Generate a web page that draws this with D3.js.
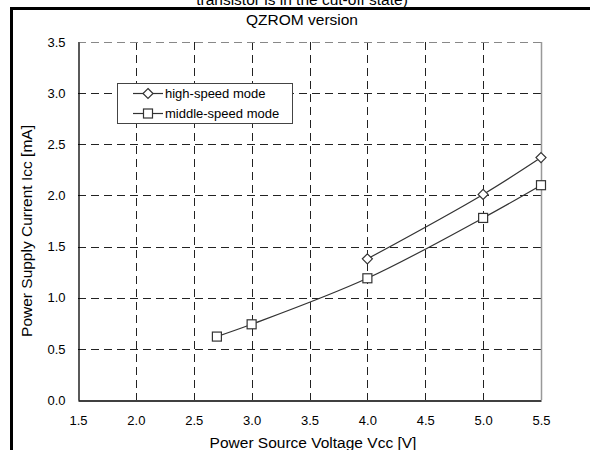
<!DOCTYPE html>
<html><head><meta charset="utf-8">
<script src="https://cdn.jsdelivr.net/npm/d3@7"></script>
<style>body{margin:0;background:#fff}svg{display:block}text{font-family:"Liberation Sans",Arial,sans-serif;fill:#000}</style>
</head><body>
<svg id="c" width="590" height="450"></svg>
<script>
const xTicks = [1.5, 2.0, 2.5, 3.0, 3.5, 4.0, 4.5, 5.0, 5.5];
const yTicks = [0.0, 0.5, 1.0, 1.5, 2.0, 2.5, 3.0, 3.5];
const highVcc = [4.0, 5.0, 5.5];
const highIcc = [1.38, 2.01, 2.37];
const midVcc = [2.7, 3.0, 4.0, 5.0, 5.5];
const midIcc = [0.62, 0.74, 1.19, 1.78, 2.10];
const seriesNames = ["high-speed mode", "middle-speed mode"];
const titleLine1 = "transistor is in the cut-off state)";
const titleLine2 = "QZROM version";
const xTitle = "Power Source Voltage Vcc [V]";
const yTitle = "Power Supply Current Icc [mA]";

const svg = d3.select("#c");
const L = 78, R = 541, T = 42, B = 400;
const x = d3.scaleLinear().domain([1.5, 5.5]).range([L, R]);
const y = d3.scaleLinear().domain([0, 3.5]).range([B, T]);
const FONT = '"Liberation Sans",Arial,sans-serif';

// outer frame
svg.append("line").attr("x1", 11.5).attr("x2", 11.5).attr("y1", 7).attr("y2", 450).attr("stroke", "#000").attr("stroke-width", 3);
svg.append("line").attr("x1", 10).attr("x2", 590).attr("y1", 8.5).attr("y2", 8.5).attr("stroke", "#000").attr("stroke-width", 3);

// titles
svg.append("text").attr("x", 302).attr("y", 5).attr("text-anchor", "middle").attr("font-size", 15.5).text(titleLine1);
svg.append("text").attr("x", 302).attr("y", 25).attr("text-anchor", "middle").attr("font-size", 15.5).text(titleLine2);

// grid
const g = svg.append("g");
xTicks.slice(1, -1).forEach(v => {
  g.append("line").attr("x1", Math.round(x(v)) + 0.5).attr("x2", Math.round(x(v)) + 0.5).attr("y1", T).attr("y2", B)
    .attr("stroke", "#222").attr("stroke-dasharray", "8,5");
});
yTicks.slice(1).forEach(v => {
  g.append("line").attr("x1", L).attr("x2", R).attr("y1", Math.round(y(v)) + 0.5).attr("y2", Math.round(y(v)) + 0.5)
    .attr("stroke", v === 3.5 ? "#888" : "#222").attr("stroke-dasharray", "8,5");
});
// right border gray
svg.append("line").attr("x1", R + 0.5).attr("x2", R + 0.5).attr("y1", T).attr("y2", B).attr("stroke", "#999").attr("stroke-width", 1.5);

// axes
const xAxis = svg.append("g").attr("transform", `translate(0,${B + 0.5})`)
  .call(d3.axisBottom(x).tickValues(xTicks).tickFormat(d3.format(".1f")).tickSize(0).tickPadding(15));
const yAxis = svg.append("g").attr("transform", `translate(${L + 0.5},0)`)
  .call(d3.axisLeft(y).tickValues(yTicks).tickFormat(d3.format(".1f")).tickSize(0).tickPadding(13));
[xAxis, yAxis].forEach(a => {
  a.select(".domain").attr("stroke", "#000").attr("stroke-width", 1.3);
  a.selectAll("text").attr("font-size", 13).attr("font-family", FONT).attr("fill", "#000");
});

svg.append("text").attr("x", 313).attr("y", 448).attr("text-anchor", "middle").attr("font-size", 15.5).text(xTitle);
svg.append("text").attr("transform", "translate(32,231) rotate(-90)").attr("text-anchor", "middle").attr("font-size", 15.5).text(yTitle);

// series
const line = d3.line().x(d => x(d[0])).y(d => y(d[1])).curve(d3.curveCatmullRom.alpha(0.5));
const highData = highVcc.map((v, i) => [v, highIcc[i]]);
const midData = midVcc.map((v, i) => [v, midIcc[i]]);
const lc = "#333";
svg.append("path").datum(highData).attr("d", line).attr("fill", "none").attr("stroke", lc).attr("stroke-width", 1.2);
svg.append("path").datum(midData).attr("d", line).attr("fill", "none").attr("stroke", lc).attr("stroke-width", 1.2);

const diamond = (sel, cx, cy) => sel.append("path")
  .attr("d", `M${cx},${cy - 5}L${cx + 5},${cy}L${cx},${cy + 5}L${cx - 5},${cy}Z`)
  .attr("fill", "#fff").attr("stroke", lc).attr("stroke-width", 1.2);
const square = (sel, cx, cy) => sel.append("rect")
  .attr("x", cx - 4.5).attr("y", cy - 4.5).attr("width", 9).attr("height", 9)
  .attr("fill", "#fff").attr("stroke", lc).attr("stroke-width", 1.2);

highData.forEach(d => diamond(svg, x(d[0]), y(d[1])));
midData.forEach(d => square(svg, x(d[0]), y(d[1])));

// legend
const lg = svg.append("g");
lg.append("rect").attr("x", 117.5).attr("y", 83.5).attr("width", 175).attr("height", 40)
  .attr("fill", "#fff").attr("stroke", "#444");
[93.5, 113.5].forEach((ly, i) => {
  lg.append("line").attr("x1", 133).attr("x2", 163).attr("y1", ly).attr("y2", ly).attr("stroke", lc).attr("stroke-width", 1.2);
  if (i === 0) diamond(lg, 148, ly); else square(lg, 148, ly);
  lg.append("text").attr("x", 165).attr("y", ly + 4.5).attr("font-size", 13).text(seriesNames[i]);
});
</script>
</body></html>
